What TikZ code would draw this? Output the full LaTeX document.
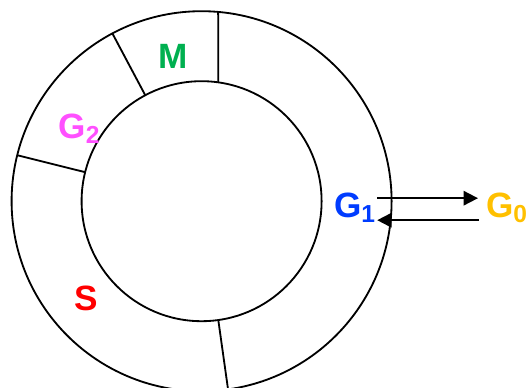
\documentclass[tikz,border=0pt]{standalone}
\usepackage{fontspec}
\setmainfont{Liberation Sans}
\usetikzlibrary{arrows.meta}
\definecolor{mgreen}{RGB}{0,176,80}
\definecolor{gpink}{RGB}{255,80,255}
\definecolor{gblue}{RGB}{0,60,255}
\definecolor{gorange}{RGB}{255,192,0}
\definecolor{sred}{RGB}{255,0,0}
\tikzset{phase/.style={inner sep=0pt,anchor=base west,font=\fontsize{25}{30}\selectfont\bfseries}}
\begin{document}
\begin{tikzpicture}[line width=1.3pt,>={Triangle[length=0.36cm,width=0.36cm]}]
\useasboundingbox (-5.04,-4.65) rectangle (8.11,5.03);
\draw (0,0) circle (4.75);
\draw (0,0) circle (3);
\draw (82:3) -- (85:4.75);
\draw (118:3) -- (118:4.75);
\draw (166:3) -- (166:4.75);
\draw (-82:3) -- (-82:4.75);
\node[phase,text=mgreen] (M) at (-1.11,3.32) {M};
\node[phase,text=gpink] (G2) at (-3.6,1.575) {G\textsubscript{2}};
\node[phase,text=sred] (S) at (-3.21,-2.725) {S};
\node[phase,text=gblue] (G1) at (3.29,-0.4) {G\textsubscript{1}};
\node[phase,text=gorange] (G0) at (7.09,-0.4) {G\textsubscript{0}};
\coordinate (a1) at (4.39,0.075); \coordinate (b1) at (6.91,0.075);
\coordinate (a2) at (6.94,-0.475); \coordinate (b2) at (4.39,-0.475);
\draw[->] (a1) -- (b1);
\draw[->] (a2) -- (b2);
\end{tikzpicture}
\end{document}
